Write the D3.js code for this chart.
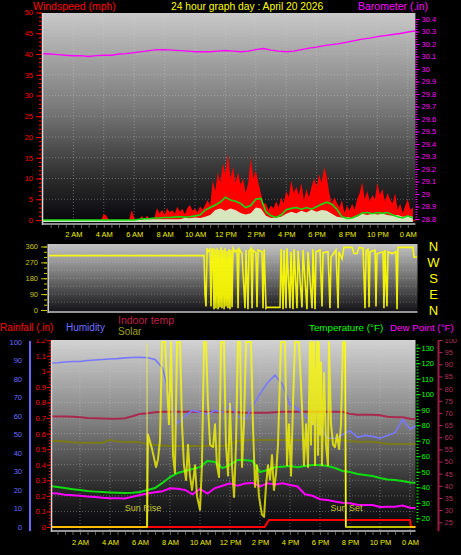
<!DOCTYPE html>
<html><head><meta charset="utf-8">
<script src="https://cdn.jsdelivr.net/npm/d3@7"></script>
<style>
html,body{margin:0;padding:0;background:#000;}
svg{display:block;}
</style></head><body>
<svg id="chart" width="461" height="555"></svg>
<script>
// ================= DATA =================
const titleText = "24 hour graph day : April 20 2026";
const xTickHours = [2,4,6,8,10,12,14,16,18,20,22,24];
const xTickLabels = ["2 AM","4 AM","6 AM","8 AM","10 AM","12 PM","2 PM","4 PM","6 PM","8 PM","10 PM","0 AM"];
const windTicks = [0,5,10,15,20,25,30,35,40,45,50];
const baroTicks = [28.8,28.9,29.0,29.1,29.2,29.3,29.4,29.5,29.6,29.7,29.8,29.9,30.0,30.1,30.2,30.3,30.4];
const dirTicks = [0,90,180,270,360];
const dirLetters = ["N","E","S","W","N"];
const humTicks = [0,10,20,30,40,50,60,70,80,90,100];
const rainTicks = [0,0.1,0.2,0.3,0.4,0.5,0.6,0.7,0.8,0.9,1.0,1.1,1.2];
const tempTicks = [20,30,40,50,60,70,80,90,100,110,120,130];
const inTicks = [25,30,35,40,45,50,55,60,65,70,75,80,85,90,95,100];

// wind gust (mph), one value every 10 minutes from midnight
const windGust = [0,0,0,0,0,0,0,0,0,0, 0,0,0,0,0,0,0,0,0,0, 0,0,0,0,1.5,1.0,0,0,0,0,
 0,0,0,0,0,2.4,0.5,0,0,1.0, 0,1.0,0.5,0,0.5,2.9,1.5,2.5,1.2,2.9,
 1.8,2.4,1.5,3.2,2.0,2.7,1.4,2.9,3.6,2.2, 2.8,1.8,3.3,2.5,3.6,4.8,3.5,9.5,7.0,11.5,
 9.0,13.7,11.0,16.0,10.0,12.8,9.0,11.5,8.5,10.0, 6.5,9.0,15.0,10.0,12.0,9.0,6.5,4.0,4.0,2.4,
 3.5,2.8,4.5,3.0,5.5,4.0,7.0,5.5,9.6,6.5, 8.0,6.0,8.9,4.8,7.5,5.5,8.0,10.0,8.0,11.0,
 9.0,12.8,10.5,6.5,4.0,5.5,4.2,3.0,4.8,1.7, 3.5,2.2,4.0,2.5,5.0,6.5,9.1,5.0,7.0,4.5,
 6.0,5.0,8.9,6.0,7.5,4.5,6.5,5.0,4.0,6.5, 2.5,4.0,1.7,3.5,5.0,2.5,3.0];
// average wind (mph), one value every 20 minutes
const windAvg = [0,0,0,0,0,0,0,0,0,0, 0,0,0,0,0,0,0,0,0,0.2,
 0.3,0.3,0.5,0.5,0.6,0.6,0.7,0.8,0.7,0.8, 1.0,1.2,2.4,3.0,3.6,4.3,5.5,4.8,4.5,4.0,
 3.0,3.5,5.0,5.2,2.0,1.0,0.6,1.2,2.5,2.8, 3.0,2.6,3.0,2.6,3.2,3.8,4.3,3.8,2.6,0.8,
 0.4,0.5,1.0,1.7,1.8,1.5,1.8,1.6,1.8,1.2, 0.8,0.5,1.0,0.5];
// wind speed (mph), one value every 20 minutes
const windSpeed = [0,0,0,0,0,0,0,0,0,0, 0,0,0,0,0,0,0,0,0,0,
 0.2,0.2,0.2,0.2,0.2,0.2,0.2,0.2,0.5,0.4, 0.6,0.5,0.8,1.2,2.4,2.8,2.2,2.8,2.4,1.7,
 1.3,1.6,3.0,2.8,1.0,0.5,0.6,0.8,1.5,2.0, 1.6,2.2,1.8,2.5,2.0,2.4,2.2,1.5,0.8,0.6,
 0.7,0.5,0.8,1.5,1.2,1.5,1.3,1.5,1.2,1.0, 1.2,0.8,1.0,0.8];
// barometer (in), every 30 minutes
const baro = [30.123,30.12,30.115,30.11,30.107,30.107,30.10,30.107,30.11,30.11,
 30.12,30.123,30.131,30.139,30.147,30.155,30.155,30.151,30.147,30.143,
 30.139,30.139,30.139,30.143,30.147,30.143,30.139,30.143,30.155,30.163,
 30.151,30.143,30.139,30.143,30.155,30.167,30.175,30.187,30.195,30.203,
 30.215,30.227,30.239,30.247,30.259,30.267,30.276,30.284,30.296,30.304];

// wind direction (degrees)
const dirHours = [0,10.31,10.37,10.44,10.51,10.57,10.70,10.77,10.84,10.90,10.97,11.04,11.10,11.17,11.24,11.30,11.37,11.44,11.50,11.57,
 11.64,11.70,11.77,11.84,11.90,11.97,12.03,12.10,12.17,12.23,12.37,12.50,12.57,12.63,12.83,13.03,13.10,13.23,13.30,13.43,
 13.50,13.56,13.76,13.83,13.90,14.16,14.23,14.30,14.43,14.49,15.36,15.43,15.56,15.63,15.76,15.82,16.02,16.09,16.22,16.29,
 16.49,16.56,16.82,16.89,17.15,17.22,17.49,17.55,17.69,17.75,18.02,18.15,18.22,18.55,18.68,18.75,19.08,19.22,19.28,19.48,
 19.61,20.15,20.28,20.48,20.61,20.88,21.01,21.08,21.21,21.28,21.34,21.68,21.74,21.81,22.21,22.27,22.34,22.47,22.54,22.81,
 23.07,23.14,23.20,24.20,24.27,24.47];
const dirVals = [308,308,90,20,350,330,345,20,340,350,5,345,10,350,5,340,15,355,10,340,
 5,350,20,335,10,345,5,340,15,350,330,340,10,345,320,10,340,5,335,350,
 10,340,325,15,340,330,10,345,10,15,15,345,5,340,10,350,10,330,5,345,
 10,335,15,340,5,330,10,345,5,330,340,20,325,330,10,300,340,10,330,290,
 355,355,320,320,355,350,10,335,345,15,330,340,20,320,330,10,340,20,330,320,
 330,5,355,355,300,300];

// bottom panel, every 30 minutes from midnight
const humidity = [88.6,88.8,89.2,89.5,89.5,90.0,90.3,90.5,90.8,91.0,
 91.4,91.6,91.7,91.5,90.5,86,70,56,60,63, 62,61,63,62,66,60,58,65,72,78,
 82,77,66,64,60,56,54,48,48,50, 52,48.5,49.5,49,48,49.5,51,58,53,55];
const indoorTemp = [68.5,68.5,68.5,68.4,68.2,67.9,67.8,67.7,67.6,67.6,
 67.8,68.6,69.6,69.9,70.3,70.5,70.5,70.5,70.5,70.5, 70.5,70.5,70.5,70.5,70.5,70.3,70.1,70.1,70.1,70.1,
 70.3,70.5,70.5,70.5,70.5,70.5,70.5,70.5,70.5,70.5, 69.6,69.2,69.2,69.2,69.0,68.4,68.2,68.2,67.6,67.5];
const indoorHum = [46.5,46.5,46.2,45.8,45.6,45.6,45.6,45.6,47.0,46.2,
 46.0,46.0,45.8,44.8,44.3,44.0,43.8,43.8,43.8,43.8, 43.8,43.8,43.8,43.8,44.5,46.5,47.0,47.0,47.0,47.0,
 47.0,47.0,47.0,47.0,47.0,47.0,47.0,47.0,47.0,47.0, 46.5,46.1,46.1,46.1,45.6,44.9,44.9,44.9,44.9,44.9];
const temperature = [40.8,40.2,39.5,38.8,38.2,37.6,37.2,36.9,36.6,36.4,
 36.3,36.5,37.0,38.2,39.5,42.8,46.6,49.2,50.5,51.8, 53.0,57.0,56.3,52.4,54.4,57.6,57.6,57.0,49.8,51.1,
 53.0,53.3,53.7,53.0,53.7,54.4,54.4,53.7,52.4,50.5, 49.8,48.6,47.9,47.3,46.0,45.0,44.7,44.0,43.1,42.8];
const dewPoint = [36.1,36.0,35.2,34.8,34.5,34.0,33.7,33.2,32.9,32.9,
 32.8,33.9,35.0,36.0,36.8,37.5,39.3,39.0,38.3,35.5, 39.0,36.0,39.5,41.0,42.6,41.0,42.5,42.8,40.5,42.6,
 41.8,42.6,41.5,40.5,35.5,34.5,32.3,31.8,30.8,30.0, 29.7,28.8,28.6,28.6,27.3,27.5,27.5,28.3,26.8,26.6];
const rainHours = [0,14.3,14.6,24.0,24.07,24.4];
const rainVals = [0,0,0.045,0.045,0,0];
const solarHours = [0,6.47,6.53,6.80,7.07,7.20,7.33,7.47,7.67,7.80, 7.93,8.07,8.20,8.33,8.47,8.67,8.80,8.93,9.07,9.20,
 9.33,9.47,9.67,9.80,10.00,10.13,10.27,10.40,10.53,10.67, 10.87,11.00,11.13,11.27,11.40,11.60,11.73,11.87,12.00,12.13,
 12.27,12.40,12.53,12.67,12.80,12.93,13.07,13.27,13.40,13.53, 13.67,13.80,13.93,14.13,14.27,14.40,14.53,14.67,14.80,14.93,
 15.07,15.20,15.40,15.67,15.80,15.93,16.07,16.20,16.33,16.60, 16.80,16.93,17.07,17.20,17.33,17.40,17.47,17.53,17.60,17.67,
 17.73,17.80,17.87,17.93,18.00,18.07,18.13,18.27,18.40,18.53, 18.60,18.73,18.87,19.00,19.13,19.27,19.40,19.53,19.67,19.73,24.4];
const solarVals = [0,0,450,380,292,330,420,950,950,700, 500,950,350,263,950,950,500,300,229,400,
 250,180,300,150,83,300,950,950,600,400, 389,500,300,243,950,950,400,250,600,300,
 146,400,950,950,292,500,950,950,950,500, 195,300,150,60,49,200,300,230,350,180,
 260,400,950,950,300,500,250,600,950,950, 584,300,500,292,950,400,950,500,950,300,
 700,950,350,950,450,800,300,749,400,300, 950,506,400,389,450,380,500,950,950,0,0];
const sunriseHour = 6.47, sunsetHour = 19.7;

// ================= DRAW =================
const FONT = "'Liberation Sans', Arial, sans-serif";
const svg = d3.select("#chart");
svg.append("rect").attr("width",461).attr("height",555).attr("fill","#000");
const defs = svg.append("defs");
function grad(id, stops){
  const g = defs.append("linearGradient").attr("id",id).attr("x1",0).attr("y1",0).attr("x2",0).attr("y2",1);
  stops.forEach(([o,c])=>g.append("stop").attr("offset",o).attr("stop-color",c));
}
grad("gTop",[[0,"#c8c8c8"],[0.45,"#7a7a7a"],[0.8,"#2a2a2a"],[1,"#06060c"]]);
grad("gMid",[[0,"#c4c4c4"],[0.5,"#707070"],[1,"#141418"]]);
grad("gBot",[[0,"#d2d2d2"],[0.45,"#7c7c7c"],[0.8,"#262626"],[1,"#04040a"]]);
function clip(id,x,y,w,h){defs.append("clipPath").attr("id",id).append("rect").attr("x",x).attr("y",y).attr("width",w).attr("height",h);}

// scales
const xTop = d3.scaleLinear().domain([0,24.5]).range([43,415.4]);
const yWind = d3.scaleLinear().domain([0,50]).range([220,12.5]);
const yBaro = d3.scaleLinear().domain([28.8,30.4]).range([219,19]);
const xMid = d3.scaleLinear().domain([0,24.5]).range([49,417.5]);
const yDir = d3.scaleLinear().domain([0,360]).range([310,246.5]);
const xBot = d3.scaleLinear().domain([0,24.4]).range([50,416]);
const yHum = d3.scaleLinear().domain([0,100]).range([527,342]);
const yRain = d3.scaleLinear().domain([0,1.2]).range([527,340.2]);
const yTemp = d3.scaleLinear().domain([20,130]).range([518.3,347.7]);
const yIn = d3.scaleLinear().domain([25,100]).range([522.3,340]);
const ySolar = d3.scaleLinear().domain([0,900]).range([527,342]).clamp(true);

function styleAxis(g,color,fs,lineColor){
  g.select(".domain").remove();
  g.selectAll("line").attr("stroke",lineColor||color);
  g.selectAll("text").attr("fill",color).attr("font-size",fs).attr("font-family",FONT);
  return g;
}
function header(txt,x,y,fs,color){
  svg.append("text").attr("x",x).attr("y",y).attr("fill",color).attr("font-size",fs)
    .attr("font-family",FONT).text(txt);
}

// ---------- TOP PANEL ----------
const TOP = {x:43,y:13,w:372.4,h:210};
clip("cTop",TOP.x,TOP.y,TOP.w,TOP.h);
svg.append("rect").attr("x",TOP.x).attr("y",TOP.y).attr("width",TOP.w).attr("height",TOP.h).attr("fill","url(#gTop)");
const gTopGrid = svg.append("g").attr("clip-path","url(#cTop)");
gTopGrid.selectAll("line.h").data(windTicks.slice(1)).join("line")
  .attr("x1",TOP.x).attr("x2",TOP.x+TOP.w).attr("y1",d=>yWind(d)).attr("y2",d=>yWind(d))
  .attr("stroke","#d8d8d8").attr("stroke-opacity",0.35).attr("stroke-dasharray","1,2");
gTopGrid.selectAll("line.v").data(xTickHours).join("line")
  .attr("x1",d=>xTop(d)).attr("x2",d=>xTop(d)).attr("y1",TOP.y).attr("y2",TOP.y+TOP.h)
  .attr("stroke","#d0d0d0").attr("stroke-opacity",0.4).attr("stroke-dasharray","1,2");
const gTopData = svg.append("g").attr("clip-path","url(#cTop)");
gTopData.append("path").datum(windGust)
  .attr("d",d3.area().x((d,i)=>xTop(i/6)).y0(yWind(0)).y1(d=>yWind(d)))
  .attr("fill","#ff0000");
gTopData.append("line").attr("x1",TOP.x).attr("x2",TOP.x+TOP.w).attr("y1",yWind(0)+0.5).attr("y2",yWind(0)+0.5)
  .attr("stroke","#ff0000").attr("stroke-width",1.5);
gTopData.append("path").datum(windSpeed)
  .attr("d",d3.area().x((d,i)=>xTop(i/3)).y0(yWind(0)+2).y1(d=>yWind(d)))
  .attr("fill","#d4ffd4").attr("fill-opacity",0.9);
gTopData.append("path").datum(windAvg)
  .attr("d",d3.line().x((d,i)=>xTop(i/3)).y(d=>yWind(d)))
  .attr("fill","none").attr("stroke","#10e010").attr("stroke-width",1.6);
gTopData.append("path").datum(baro)
  .attr("d",d3.line().x((d,i)=>xTop(i*0.5)).y(d=>yBaro(d)))
  .attr("fill","none").attr("stroke","#ff00ff").attr("stroke-width",1.5);
// frame
svg.append("line").attr("x1",42.5).attr("x2",42.5).attr("y1",TOP.y).attr("y2",225).attr("stroke","#d8d8d8").attr("stroke-width",1.5);
svg.append("line").attr("x1",42).attr("x2",TOP.x+TOP.w).attr("y1",224).attr("y2",224).attr("stroke","#c0c0c0").attr("stroke-width",1.5);
// axes
styleAxis(svg.append("g").attr("transform","translate(42,0)")
  .call(d3.axisLeft(yWind).tickValues(d3.range(0,51,1)).tickSize(3).tickFormat("")),"#ff0000",7.5);
styleAxis(svg.append("g").attr("transform","translate(42,0)")
  .call(d3.axisLeft(yWind).tickValues(windTicks).tickSize(6).tickPadding(3)),"#ff0000",7.5);
styleAxis(svg.append("g").attr("transform","translate(415.5,0)")
  .call(d3.axisRight(yBaro).tickValues(d3.range(0,81).map(k=>28.8+k*0.02)).tickSize(2).tickFormat("")),"#ff00ff",7.5);
styleAxis(svg.append("g").attr("transform","translate(415.5,0)")
  .call(d3.axisRight(yBaro).tickValues(baroTicks).tickSize(4).tickPadding(2).tickFormat(d=>String(+d.toFixed(1)))),"#ff00ff",7.5);
styleAxis(svg.append("g").attr("transform","translate(0,225)")
  .call(d3.axisBottom(xTop).tickValues(d3.range(1,49).map(k=>k*0.5)).tickSize(3).tickFormat("")),"#606060",7.5);
styleAxis(svg.append("g").attr("transform","translate(0,232)")
  .call(d3.axisBottom(xTop).tickValues(xTickHours).tickFormat((d,i)=>xTickLabels[i]).tickSize(0).tickPadding(0)),"#f0f000",7.5);

header("Windspeed (mph)",33,10,10.5,"#ff0000");
header(titleText,171,10,10.3,"#ffff00");
header("Barometer (.in)",358,10,10.5,"#ff00ff");

// ---------- MIDDLE PANEL ----------
const MID = {x:49,y:244,w:368.5,h:67};
clip("cMid",MID.x,MID.y,MID.w,MID.h);
svg.append("rect").attr("x",MID.x).attr("y",MID.y).attr("width",MID.w).attr("height",MID.h).attr("fill","url(#gMid)");
const gMidGrid = svg.append("g").attr("clip-path","url(#cMid)");
gMidGrid.selectAll("line").data([45,90,135,180,225,270,315]).join("line")
  .attr("x1",MID.x).attr("x2",MID.x+MID.w).attr("y1",d=>yDir(d)).attr("y2",d=>yDir(d))
  .attr("stroke","#d8d8d8").attr("stroke-opacity",0.3).attr("stroke-dasharray","1,2");
svg.append("g").attr("clip-path","url(#cMid)").append("path").datum(d3.zip(dirHours,dirVals))
  .attr("d",d3.line().x(d=>xMid(d[0])).y(d=>yDir(d[1])))
  .attr("fill","none").attr("stroke","#ffff00").attr("stroke-width",1.6).attr("stroke-opacity",0.9);
svg.append("line").attr("x1",48.2).attr("x2",48.2).attr("y1",MID.y).attr("y2",313).attr("stroke","#d8d8d8").attr("stroke-width",1.5);
svg.append("line").attr("x1",48).attr("x2",MID.x+MID.w).attr("y1",312).attr("y2",312).attr("stroke","#c8c8c8").attr("stroke-width",1.5);
styleAxis(svg.append("g").attr("transform","translate(47,0)")
  .call(d3.axisLeft(yDir).tickValues(d3.range(0,361,30)).tickSize(3).tickFormat("")),"#c8c800",7.5);
styleAxis(svg.append("g").attr("transform","translate(47,0)")
  .call(d3.axisLeft(yDir).tickValues(dirTicks).tickSize(6).tickPadding(3)),"#c8c800",7.5);
svg.append("g").selectAll("text").data(dirTicks).join("text")
  .attr("x",433.5).attr("y",d=>yDir(d)).attr("dy","0.36em").attr("text-anchor","middle")
  .attr("fill","#ffff00").attr("font-size",13).attr("font-family",FONT)
  .text((d,i)=>dirLetters[i]);

// ---------- BOTTOM PANEL ----------
const BOT = {x:52,y:340,w:363.5,h:190};
clip("cBot",BOT.x,BOT.y,BOT.w,BOT.h);
svg.append("rect").attr("x",BOT.x).attr("y",BOT.y).attr("width",BOT.w).attr("height",BOT.h).attr("fill","url(#gBot)");
const gBotGrid = svg.append("g").attr("clip-path","url(#cBot)");
gBotGrid.selectAll("line.h").data(rainTicks.slice(1)).join("line")
  .attr("x1",BOT.x).attr("x2",BOT.x+BOT.w).attr("y1",d=>yRain(d)).attr("y2",d=>yRain(d))
  .attr("stroke","#d8d8d8").attr("stroke-opacity",0.35).attr("stroke-dasharray","1,2");
gBotGrid.selectAll("line.v").data(xTickHours).join("line")
  .attr("x1",d=>xBot(d)).attr("x2",d=>xBot(d)).attr("y1",BOT.y).attr("y2",BOT.y+BOT.h)
  .attr("stroke","#d0d0d0").attr("stroke-opacity",0.4).attr("stroke-dasharray","1,2");
const gBot = svg.append("g").attr("clip-path","url(#cBot)");
function halfLine(arr,y,color,w){
  gBot.append("path").datum(arr).attr("d",d3.line().x((d,i)=>xBot(i*0.5)).y(d=>y(d)))
    .attr("fill","none").attr("stroke",color).attr("stroke-width",w);
}
halfLine(indoorTemp,yIn,"#a8284e",2);
halfLine(indoorHum,yHum,"#7a7a18",2);
halfLine(humidity,yHum,"#7878ff",1.6);
halfLine(temperature,yTemp,"#10dc10",2);
halfLine(dewPoint,yTemp,"#ff00ff",2);
gBot.append("path").datum(d3.zip(rainHours,rainVals))
  .attr("d",d3.line().x(d=>xBot(d[0])).y(d=>yRain(d[1])))
  .attr("fill","none").attr("stroke","#ff0000").attr("stroke-width",2);
[sunriseHour,sunsetHour].forEach(h=>{
  gBot.append("line").attr("x1",xBot(h)).attr("x2",xBot(h)).attr("y1",343).attr("y2",527)
    .attr("stroke","#e8e860").attr("stroke-width",1);
});
gBot.append("path").datum(d3.zip(solarHours,solarVals))
  .attr("d",d3.line().x(d=>xBot(d[0])).y(d=>ySolar(d[1])))
  .attr("fill","none").attr("stroke","#ffff00").attr("stroke-width",2).attr("stroke-opacity",0.75)
  .attr("stroke-linejoin","round");
svg.append("text").attr("x",xBot(sunriseHour)-4).attr("y",510.7).attr("text-anchor","middle")
  .attr("fill","#c8c832").attr("font-size",9).attr("font-family",FONT).text("Sun Rise");
svg.append("text").attr("x",xBot(sunsetHour)+1).attr("y",510.7).attr("text-anchor","middle")
  .attr("fill","#c8c832").attr("font-size",9).attr("font-family",FONT).text("Sun Set");
// frame
svg.append("line").attr("x1",51.5).attr("x2",51.5).attr("y1",BOT.y).attr("y2",532).attr("stroke","#d8d8d8").attr("stroke-width",1.5);
svg.append("line").attr("x1",51).attr("x2",BOT.x+BOT.w).attr("y1",531).attr("y2",531).attr("stroke","#c8c8c8").attr("stroke-width",1.5);
// axes
clip("cAx",0,339,461,216);
const gAx = svg.append("g").attr("clip-path","url(#cAx)");
styleAxis(gAx.append("g").attr("transform","translate(29,0)")
  .call(d3.axisLeft(yHum).tickValues(humTicks).tickSize(0).tickPadding(7)),"#6a6aff",7.5);
svg.append("line").attr("x1",30).attr("x2",30).attr("y1",341).attr("y2",531).attr("stroke","#6a6aff").attr("stroke-width",2);
styleAxis(gAx.append("g").attr("transform","translate(51,0)")
  .call(d3.axisLeft(yRain).tickValues(d3.range(0,61).map(k=>k*0.02)).tickSize(2).tickFormat("")),"#ff0000",7.5);
styleAxis(gAx.append("g").attr("transform","translate(51,0)")
  .call(d3.axisLeft(yRain).tickValues(rainTicks).tickSize(4).tickPadding(1).tickFormat(d=>String(+d.toFixed(1)))),"#ff0000",7.5);
styleAxis(gAx.append("g").attr("transform","translate(416.5,0)")
  .call(d3.axisRight(yTemp).tickValues(d3.range(18,133,2)).tickSize(2).tickFormat("")),"#00ff00",7.5);
styleAxis(gAx.append("g").attr("transform","translate(416.5,0)")
  .call(d3.axisRight(yTemp).tickValues(tempTicks).tickSize(4).tickPadding(1)),"#00ff00",7.5);
svg.append("line").attr("x1",438.5).attr("x2",438.5).attr("y1",340).attr("y2",531).attr("stroke","#a01848").attr("stroke-width",2);
styleAxis(gAx.append("g").attr("transform","translate(438.5,0)")
  .call(d3.axisRight(yIn).tickValues(inTicks).tickSize(4).tickPadding(2)),"#b0305a",7.5);
styleAxis(svg.append("g").attr("transform","translate(0,532)")
  .call(d3.axisBottom(xBot).tickValues(d3.range(1,49).map(k=>k*0.5)).tickSize(3).tickFormat("")),"#606060",7.5);
styleAxis(svg.append("g").attr("transform","translate(0,539.3)")
  .call(d3.axisBottom(xBot).tickValues(xTickHours).tickFormat((d,i)=>xTickLabels[i]).tickSize(0).tickPadding(0)),"#f0f000",7.5);

header("Rainfall (.in)",0,330.7,10,"#ff0000");
header("Humidity",66,330.7,10,"#7070ff");
header("Indoor temp",118,324,10.5,"#c0204a");
header("Solar",118,335,10,"#a0a020");
header("Temperature (°F)",309,331,9.8,"#00ff00");
header("Dew Point (°F)",390,331,9.8,"#ff00ff");
</script>
</body></html>
